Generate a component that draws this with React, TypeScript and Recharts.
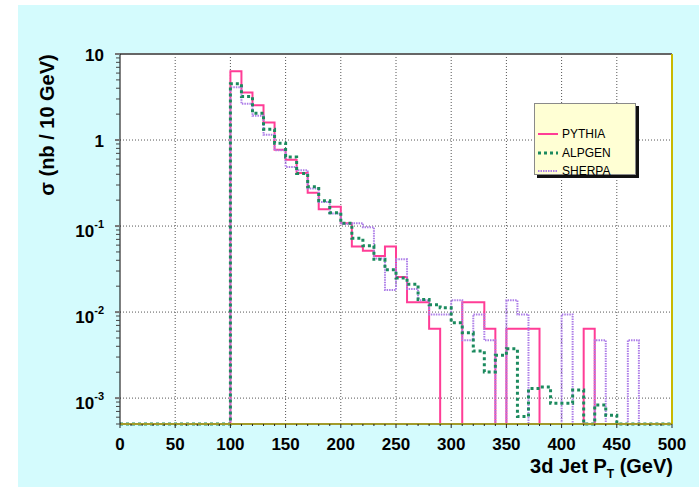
import React from "react";
import { LineChart, Line, XAxis, YAxis, CartesianGrid, ReferenceLine } from "recharts";

// lower edges of the 10 GeV bins
const BIN_LO = Array.from({ length: 40 }, (_, i) => 100 + i * 10);

// sigma per bin (nb / 10 GeV), 0 = empty bin
const PYTHIA = [
  6.3, 3.57, 2.54, 1.6, 0.77, 0.59, 0.415, 0.244, 0.157, 0.168,
  0.108, 0.058, 0.0515, 0.045, 0.058, 0.0255, 0.013, 0.013, 0.0064, 0,
  0, 0.013, 0.013, 0.0064, 0, 0.0064, 0.0064, 0.0064, 0, 0,
  0, 0, 0.0064, 0, 0, 0, 0, 0, 0, 0,
];
const ALPGEN = [
  4.5, 3.2, 2.05, 1.33, 0.92, 0.636, 0.408, 0.286, 0.197, 0.143,
  0.108, 0.072, 0.059, 0.041, 0.031, 0.0249, 0.021, 0.014, 0.0122, 0.0112,
  0.0075, 0.00575, 0.00352, 0.00201, 0.00314, 0.00375, 0.00061, 0.00129, 0.00135, 0.00087,
  0.00087, 0.00124, 0, 0.00083, 0.00063, 0, 0, 0, 0, 0,
];
const SHERPA = [
  4.1, 2.64, 1.92, 1.15, 0.76, 0.487, 0.446, 0.274, 0.19, 0.14,
  0.106, 0.108, 0.097, 0.042, 0.018, 0.041, 0.0185, 0.0137, 0.0094, 0.0094,
  0.0137, 0.0047, 0.0094, 0.0047, 0, 0.0137, 0.0094, 0, 0, 0,
  0.0094, 0, 0, 0.0047, 0, 0, 0.0047, 0, 0, 0,
];

const X_LABELS = [0, 50, 100, 150, 200, 250, 300, 350, 400, 450, 500];
const X_TICKS = Array.from({ length: 51 }, (_, i) => i * 10);
const Y_MAJOR = [0.001, 0.01, 0.1, 1, 10];
const Y_MINOR = [5, 6, 7, 8, 9].map((m) => m * 1e-4).concat(
  [1e-3, 1e-2, 1e-1, 1].flatMap((d) => [2, 3, 4, 5, 6, 7, 8, 9].map((m) => m * d))
);
const Y_MIN = 5e-4; // axis floor, empty bins sit here

const SERIES = [
  { key: "pythia", name: "PYTHIA", color: "#ff3d96", width: 2, dash: undefined },
  { key: "sherpa", name: "SHERPA", color: "#ad7ee8", width: 2, dash: "1.5 1" },
  { key: "alpgen", name: "ALPGEN", color: "#1b8a5e", width: 3, dash: "3 3" },
];

const floor = (v: number) => (v > 0 ? v : Y_MIN);

const data = [
  { x: 0, pythia: Y_MIN, alpgen: Y_MIN, sherpa: Y_MIN },
  ...BIN_LO.map((x, i) => ({
    x,
    pythia: floor(PYTHIA[i]),
    alpgen: floor(ALPGEN[i]),
    sherpa: floor(SHERPA[i]),
  })),
  { x: 500, pythia: Y_MIN, alpgen: Y_MIN, sherpa: Y_MIN },
];

const FONT = '"Liberation Sans", Arial, sans-serif';

function YTick(props: any) {
  const { x, y, payload } = props;
  const lg = Math.log10(payload.value);
  const e = Math.round(lg);
  if (Math.abs(lg - e) > 1e-6) {
    return <line x1={x - 4} x2={x} y1={y} y2={y} stroke="#444" />;
  }
  const txt = { fontFamily: FONT, fontWeight: 700, fontSize: 17, fill: "#000" };
  return (
    <g>
      <line x1={x - 5} x2={x} y1={y} y2={y} stroke="#777" strokeWidth={2} />
      {e >= 0 ? (
        <text x={x - 16} y={y + 1} textAnchor="end" dominantBaseline="central" {...txt}>
          {e === 1 ? "10" : "1"}
        </text>
      ) : (
        <text x={x - 16} y={y + 5} textAnchor="end" dominantBaseline="central" {...txt}>
          <tspan>10</tspan>
          <tspan dy={-7} fontSize={11}>{String(e)}</tspan>
        </text>
      )}
    </g>
  );
}

function XTick(props: any) {
  const { x, y, payload } = props;
  const major = X_LABELS.includes(payload.value);
  return (
    <g>
      <line x1={x} x2={x} y1={y} y2={y + (major ? 4 : 2)} stroke="#222" />
      {major && (
        <text
          x={x}
          y={y + 20}
          textAnchor="middle"
          dominantBaseline="central"
          fontFamily={FONT}
          fontWeight={700}
          fontSize={17}
          fill="#000"
        >
          {payload.value}
        </text>
      )}
    </g>
  );
}

function LegendBox() {
  const order = ["pythia", "alpgen", "sherpa"].map((k) => SERIES.find((s) => s.key === k)!);
  return (
    <div
      style={{
        position: "absolute",
        left: 534,
        top: 103,
        width: 102,
        height: 72,
        background: "#ffffd4",
        border: "1px solid #8a8a8a",
        boxShadow: "3px 3px 0 #111",
        fontFamily: FONT,
        fontSize: 12,
        color: "#000",
        paddingTop: 21,
        boxSizing: "border-box",
      }}
    >
      {order.map((s) => (
        <div key={s.key} style={{ display: "flex", alignItems: "center", height: 18.5 }}>
          <svg width={25} height={6} style={{ marginLeft: 2 }}>
            <line
              x1={1}
              x2={21}
              y1={3}
              y2={3}
              stroke={s.color}
              strokeWidth={s.width}
              strokeDasharray={s.dash}
            />
          </svg>
          <span>{s.name}</span>
        </div>
      ))}
    </div>
  );
}

export default function App() {
  const grid = { stroke: "#555", strokeDasharray: "1 2", zIndex: -50 } as any;
  return (
    <div style={{ position: "absolute", left: 0, top: 0, width: 699, height: 488, background: "#fff" }}>
      <div
        style={{ position: "absolute", left: 18, top: 5, width: 681, height: 482, background: "#d4fbfd" }}
      />
      <LineChart
        width={699}
        height={488}
        data={data}
        margin={{ top: 54, right: 27, left: 60, bottom: 34 }}
        style={{ position: "absolute", left: 0, top: 0 }}
      >
        <CartesianGrid horizontal={false} vertical={false} fill="#ffffff" />
        <XAxis
          dataKey="x"
          type="number"
          domain={[0, 500]}
          ticks={X_TICKS}
          interval={0}
          height={30}
          tickSize={0}
          tickMargin={0}
          tick={XTick}
          tickLine={false}
          axisLine={{ stroke: "#a29b2a", strokeWidth: 2 }}
        />
        <YAxis
          scale="log"
          domain={[Y_MIN, 10]}
          ticks={[...Y_MINOR, ...Y_MAJOR].sort((a, b) => a - b)}
          interval={0}
          width={60}
          tickSize={0}
          tickMargin={0}
          tick={YTick}
          tickLine={false}
          axisLine={{ stroke: "#000" }}
        />
        {X_LABELS.slice(1, -1).map((v) => (
          <ReferenceLine key={"gx" + v} x={v} {...grid} />
        ))}
        {Y_MAJOR.slice(0, -1).map((v) => (
          <ReferenceLine key={"gy" + v} y={v} {...grid} />
        ))}
        <ReferenceLine y={10} stroke="#666" strokeWidth={2} />
        <ReferenceLine x={500} stroke="#c9b800" strokeWidth={2} />
        {SERIES.map((s) => (
          <Line
            key={s.key}
            dataKey={s.key}
            name={s.name}
            type="stepAfter"
            stroke={s.color}
            strokeWidth={s.width}
            strokeDasharray={s.dash}
            dot={false}
            activeDot={false}
            isAnimationActive={false}
          />
        ))}
      </LineChart>
      <LegendBox />
      <div
        style={{
          position: "absolute",
          left: 47,
          top: 125,
          transform: "translate(-50%, -50%) rotate(-90deg)",
          whiteSpace: "nowrap",
          fontFamily: FONT,
          fontWeight: 700,
          fontSize: 20,
          color: "#000",
        }}
      >
        σ (nb / 10 GeV)
      </div>
      <div
        style={{
          position: "absolute",
          right: 699 - 673,
          top: 455,
          whiteSpace: "nowrap",
          fontFamily: FONT,
          fontWeight: 700,
          fontSize: 20,
          color: "#000",
        }}
      >
        3d Jet P<sub style={{ fontSize: 12, verticalAlign: -5 }}>T</sub> (GeV)
      </div>
    </div>
  );
}
